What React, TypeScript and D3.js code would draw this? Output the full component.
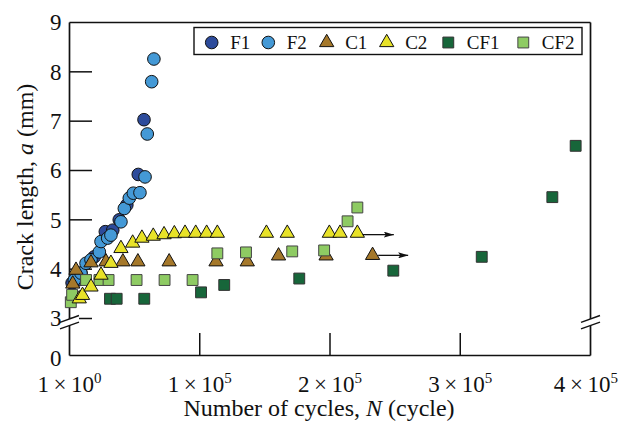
import React from "react";
import * as d3 from "d3";

// crack length a (mm) against number of cycles N
const f1N = [2000, 6300, 8800, 19000, 27500, 33200, 38200, 44000, 52800, 57200];
const f1A = [3.72, 3.78, 3.92, 4.25, 4.76, 4.79, 5.0, 5.3, 5.92, 7.03];

const f2N = [3700, 8800, 12700, 16500, 22900, 24200, 29300, 31800, 39500, 42100, 45900, 49000, 54100, 58000, 59700, 63100, 64800];
const f2A = [3.78, 3.92, 4.12, 4.19, 4.35, 4.56, 4.63, 4.69, 4.96, 5.23, 5.44, 5.54, 5.55, 5.87, 6.74, 7.8, 8.26];

const c1N = [2500, 5000, 16500, 28000, 41000, 52500, 76500, 112500, 136500, 160500, 197000, 232700];
const c1A = [3.7, 3.98, 4.13, 4.15, 4.15, 4.15, 4.15, 4.15, 4.15, 4.27, 4.27, 4.28];

const c2N = [7500, 10000, 16500, 24200, 31800, 39500, 48500, 55600, 64300, 72600, 80500, 88700, 96900, 105300, 113500, 151200, 167200, 199500, 207700, 221000];
const c2A = [3.4, 3.47, 3.64, 3.88, 4.12, 4.42, 4.53, 4.63, 4.67, 4.7, 4.72, 4.73, 4.73, 4.73, 4.73, 4.73, 4.73, 4.73, 4.73, 4.73];

const cf1N = [31100, 36200, 57400, 101000, 118800, 176400, 248600, 316500, 370700, 388600];
const cf1A = [3.4, 3.4, 3.4, 3.53, 3.68, 3.81, 3.97, 4.25, 5.46, 6.5];

const cf2N = [1000, 2000, 12700, 23000, 30000, 51500, 73000, 94500, 113500, 135500, 171000, 195500, 213500, 221000];
const cf2A = [3.33, 3.48, 3.78, 3.78, 3.78, 3.78, 3.78, 3.78, 4.32, 4.34, 4.36, 4.38, 4.97, 5.25];

// run-out arrows (start N, end N, a)
const arrowFrom = [237000, 225000];
const arrowTo = [260000, 249000];
const arrowA = [4.28, 4.7];

const seriesNames = ["F1", "F2", "C1", "C2", "CF1", "CF2"];
const yTicks = [0, 3, 4, 5, 6, 7, 8, 9];
const xTicks = [0, 100000, 200000, 300000, 400000];
const xTickMant = ["1", "1", "2", "3", "4"];
const xTickExp = ["0", "5", "5", "5", "5"];

const FONT = "'Liberation Serif', 'Times New Roman', serif";

const x = d3.scaleLinear().domain([0, 400000]).range([69.5, 590.5]);
const y = d3.scaleLinear().domain([0, 3, 9]).range([355.5, 318.5, 22.5]);

const circle = d3.symbol(d3.symbolCircle, 125)();
const triangle = d3.symbol(d3.symbolTriangle, 88)();
const square = d3.symbol(d3.symbolSquare, 118)();

const styles = [
  { path: circle, fill: "#2d4b9b", stroke: "#111" },
  { path: circle, fill: "#4499d6", stroke: "#111" },
  { path: triangle, fill: "#a5782a", stroke: "#111" },
  { path: triangle, fill: "#e8e228", stroke: "#111" },
  { path: square, fill: "#17663a", stroke: "#333" },
  { path: square, fill: "#8ecb63", stroke: "#444" },
];

const series = [
  [f1N, f1A],
  [f2N, f2A],
  [c1N, c1A],
  [cf1N, cf1A],
  [cf2N, cf2A],
  [c2N, c2A],
];
const drawOrder = [0, 1, 2, 4, 5, 3];

const legendSymX = [211.7, 268.3, 326.7, 386.7, 448.3, 523.3];

function BreakMark({ cx, cy }: { cx: number; cy: number }) {
  const dx = 9.5, dy = 3.4, gap = 3.3;
  return (
    <g>
      <polygon
        points={`${cx - dx},${cy - gap + dy} ${cx + dx},${cy - gap - dy} ${cx + dx},${cy + gap - dy} ${cx - dx},${cy + gap + dy}`}
        fill="white"
      />
      <line x1={cx - dx} y1={cy - gap + dy} x2={cx + dx} y2={cy - gap - dy} stroke="#111" strokeWidth={1.4} />
      <line x1={cx - dx} y1={cy + gap + dy} x2={cx + dx} y2={cy + gap - dy} stroke="#111" strokeWidth={1.4} />
    </g>
  );
}

export default function App() {
  const [x0, x1] = x.range();
  const yTop = y(9);
  const yBot = y(0);
  const brk = y(2.7);
  const thin = "\u2009";

  return (
    <svg width={619} height={424} style={{ position: "absolute", left: 0, top: 0, background: "white" }}>
      <defs>
        <marker id="ah" viewBox="0 0 10 6" refX={10} refY={3} markerWidth={10} markerHeight={6} markerUnits="userSpaceOnUse" orient="auto">
          <path d="M0,0 L10,3 L0,6 L2,3 Z" fill="#111" />
        </marker>
      </defs>

      {/* frame */}
      <g stroke="#111" strokeWidth={1.7} fill="none">
        <line x1={x0} y1={yTop} x2={x1} y2={yTop} />
        <line x1={x0} y1={yBot} x2={x1} y2={yBot} />
        <line x1={x0} y1={yTop} x2={x0} y2={yBot} />
        <line x1={x1} y1={yTop} x2={x1} y2={yBot} />
      </g>

      {/* ticks */}
      <g stroke="#111" strokeWidth={1.5}>
        {yTicks.filter((t) => t > 0 && t < 9).map((t) => (
          <line key={t} x1={x0} x2={x0 + 22.5} y1={y(t)} y2={y(t)} />
        ))}
        {xTicks.filter((t) => t > 0 && t < 400000).map((t) => (
          <line key={t} x1={x(t)} x2={x(t)} y1={yBot} y2={yBot - 22.5} />
        ))}
      </g>

      <BreakMark cx={x0} cy={brk} />
      <BreakMark cx={x1} cy={brk} />

      {/* tick labels */}
      <g fontFamily={FONT} fontSize={23} fill="#111">
        {yTicks.map((t) => (
          <text key={t} x={x0 - 8} y={y(t) + (t === 0 ? 3 : 0)} dy="0.34em" textAnchor="end">
            {t}
          </text>
        ))}
        {xTicks.map((t, i) => {
          const last = i === xTicks.length - 1;
          return (
            <text key={t} x={last ? 618 : x(t)} y={392} textAnchor={last ? "end" : "middle"}>
              {xTickMant[i]}{thin}×{thin}10
              <tspan dy={-9} fontSize={15}>{xTickExp[i]}</tspan>
            </text>
          );
        })}
      </g>

      {/* axis titles */}
      <g fontFamily={FONT} fontSize={24} fill="#111">
        <text x={319} y={416} textAnchor="middle">
          Number of cycles, <tspan fontStyle="italic">N</tspan> (cycle)
        </text>
        <text transform={`translate(33,${(yTop + yBot) / 2 - 2}) rotate(-90)`} textAnchor="middle">
          Crack length, <tspan fontStyle="italic">a</tspan> (mm)
        </text>
      </g>

      {/* data */}
      {drawOrder.map((si, k) => {
        const [ns, as] = series[k];
        const st = styles[si];
        return (
          <g key={si}>
            {ns.map((n, j) => (
              <path
                key={j}
                d={st.path}
                transform={`translate(${x(n)},${y(as[j])})`}
                fill={st.fill}
                stroke={st.stroke}
                strokeWidth={1}
              />
            ))}
          </g>
        );
      })}

      {/* run-out arrows */}
      <g stroke="#111" strokeWidth={1.3}>
        {arrowFrom.map((n, i) => (
          <line key={i} x1={x(n)} x2={x(arrowTo[i])} y1={y(arrowA[i])} y2={y(arrowA[i])} markerEnd="url(#ah)" />
        ))}
      </g>

      {/* legend */}
      <g>
        <rect x={194} y={27.5} width={388} height={27} fill="white" stroke="#111" strokeWidth={1.4} />
        {seriesNames.map((name, i) => (
          <g key={name}>
            <path
              d={styles[i].path}
              transform={`translate(${legendSymX[i]},42.5)`}
              fill={styles[i].fill}
              stroke={styles[i].stroke}
              strokeWidth={1}
            />
            <text x={legendSymX[i] + 18.5} y={48.5} fontFamily={FONT} fontSize={19} fill="#111">
              {name}
            </text>
          </g>
        ))}
      </g>
    </svg>
  );
}
